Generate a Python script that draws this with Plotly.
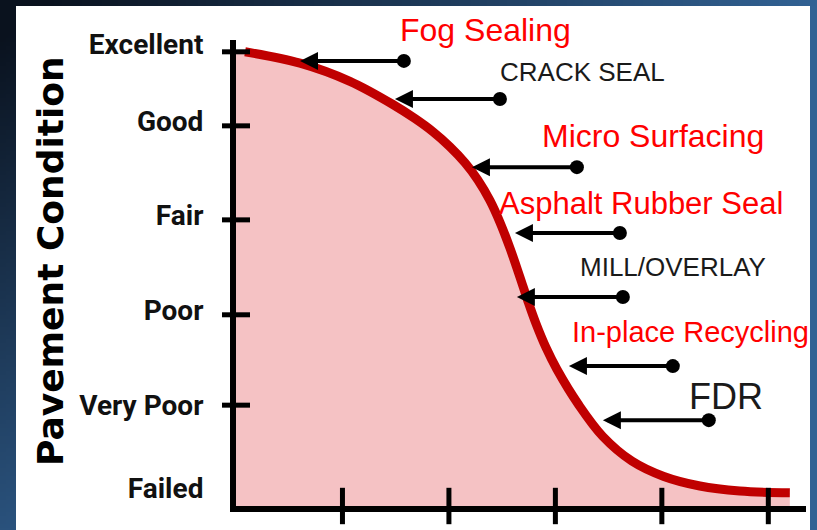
import base64, struct, zlib
import numpy as np
import plotly.graph_objects as go

# ---------------- data ----------------
condition_labels = ["Excellent", "Good", "Fair", "Poor", "Very Poor", "Failed"]
condition_label_pos = [101.7, 84.8, 64.1, 43.2, 22.2, 4.0]
tick_marks_y = [100, 83.7, 63.0, 42.1, 22.2]
tick_marks_x = [1, 2, 3, 4, 5]

curve_x = [0.085, 0.601, 1.070, 1.474, 1.681, 1.850, 2.009, 2.150, 2.272, 2.385,
           2.479, 2.573, 2.667, 2.742, 2.817, 2.911, 3.014, 3.221, 3.446, 3.718,
           4.019, 4.357, 4.732, 5.202]
curve_y = [100.0, 97.5, 93.5, 88.4, 85.3, 82.4, 79.1, 75.6, 71.8, 67.3,
           62.5, 56.8, 50.4, 45.1, 40.2, 34.9, 30.1, 22.2, 15.3, 9.9,
           6.5, 4.4, 3.3, 2.9]

arrow_head_x = [0.601, 1.493, 2.216, 2.620, 2.638, 3.127, 3.446]
arrow_tail_x = [1.577, 2.479, 3.202, 3.606, 3.634, 4.103, 4.441]
arrow_y = [98.0, 89.6, 74.6, 60.1, 46.0, 30.8, 18.9]

treatments = ["Fog Sealing", "CRACK SEAL", "Micro Surfacing", "Asphalt Rubber Seal",
              "MILL/OVERLAY", "In-place Recycling", "FDR"]
treatment_x = [1.521, 2.460, 2.854, 2.451, 3.211, 3.136, 4.235]
treatment_y = [100.5, 91.9, 77.1, 62.4, 48.8, 34.3, 19.2]
treatment_color = ["#ff0000", "#1a1a1a", "#ff0000", "#ff0000", "#1a1a1a", "#ff0000", "#1a1a1a"]
treatment_size = [32, 26, 32, 31, 26, 29, 36]

W, H = 817, 530

# ---------------- background gradient image ----------------
def make_png(arr):
    h, w, _ = arr.shape
    raw = b"".join(b"\x00" + arr[i].tobytes() for i in range(h))
    def chunk(t, d):
        return struct.pack(">I", len(d)) + t + d + struct.pack(">I", zlib.crc32(t + d) & 0xffffffff)
    return (b"\x89PNG\r\n\x1a\n" + chunk(b"IHDR", struct.pack(">IIBBBBB", w, h, 8, 2, 0, 0, 0))
            + chunk(b"IDAT", zlib.compress(raw, 9)) + chunk(b"IEND", b""))

gw, gh = 204, 132
gx = np.linspace(0, 1, gw)[None, :]
gy = np.linspace(0, 1, gh)[:, None]
t = np.clip(gx * 1.05 + gy * 0.85 - 0.05, 0, 1)[..., None]
dark = np.array([10, 18, 30], float)
blue = np.array([50, 98, 148], float)
img = (dark + (blue - dark) * t).astype(np.uint8)
img_uri = "data:image/png;base64," + base64.b64encode(make_png(img)).decode()

# ---------------- figure ----------------
fig = go.Figure()

fill_x = [0] + curve_x
fill_y = [curve_y[0]] + curve_y
fig.add_trace(go.Scatter(x=fill_x, y=fill_y, mode="lines", line=dict(width=0, shape="spline", smoothing=1.0),
                         fill="tozeroy", fillcolor="#f5c2c4", hoverinfo="skip"))
fig.add_trace(go.Scatter(x=curve_x, y=curve_y, mode="lines",
                         line=dict(color="#c00000", width=9, shape="spline", smoothing=1.0),
                         cliponaxis=False))
# cross tick marks
fig.add_trace(go.Scatter(x=[0] * len(tick_marks_y), y=tick_marks_y, mode="markers",
                         marker=dict(symbol="line-ew", size=20, line=dict(width=5, color="black")),
                         cliponaxis=False))
fig.add_trace(go.Scatter(x=tick_marks_x, y=[0] * len(tick_marks_x), mode="markers",
                         marker=dict(symbol="line-ns", size=26, line=dict(width=5, color="black")),
                         cliponaxis=False))
# arrow tail dots
fig.add_trace(go.Scatter(x=arrow_tail_x, y=arrow_y, mode="markers",
                         marker=dict(symbol="circle", size=14, color="black"), cliponaxis=False))

annotations = []
for hx, tx, yy in zip(arrow_head_x, arrow_tail_x, arrow_y):
    annotations.append(dict(x=hx, y=yy, ax=tx, ay=yy, xref="x", yref="y", axref="x", ayref="y",
                            text="", showarrow=True, arrowhead=2, arrowsize=0.9, arrowwidth=4,
                            arrowcolor="black", standoff=0, startstandoff=0))
for txt, xx, yy, col, sz in zip(treatments, treatment_x, treatment_y, treatment_color, treatment_size):
    annotations.append(dict(x=xx, y=yy, xref="x", yref="y", text=txt, showarrow=False,
                            xanchor="left", yanchor="bottom",
                            font=dict(family="Liberation Sans, Arial, sans-serif", size=sz, color=col)))
annotations.append(dict(x=50 / W, y=1 - 261 / H, xref="paper", yref="paper", text="Pavement Condition",
                        showarrow=False, textangle=-90, xanchor="center", yanchor="middle",
                        font=dict(family="DejaVu Sans", size=36, color="black", weight="bold")))

fig.update_layout(
    width=W, height=H,
    margin=dict(l=0, r=0, t=0, b=0, autoexpand=False),
    paper_bgcolor="#1b3450",
    plot_bgcolor="rgba(0,0,0,0)",
    showlegend=False,
    images=[dict(source=img_uri, xref="paper", yref="paper", x=0, y=1, sizex=1, sizey=1,
                 xanchor="left", yanchor="top", sizing="stretch", layer="below")],
    shapes=[dict(type="rect", xref="paper", yref="paper", x0=16 / W, x1=810 / W, y0=0, y1=1 - 6 / H,
                 fillcolor="white", line=dict(width=0), layer="below")],
    annotations=annotations,
    xaxis=dict(domain=[236 / W, 806 / W], range=[0, 5.354], showgrid=False, zeroline=False,
               automargin=False,
               showline=True, linecolor="black", linewidth=6, showticklabels=False, ticks=""),
    yaxis=dict(domain=[1 - 506 / H, 1 - 40 / H], range=[0, 102.6], showgrid=False, zeroline=False,
               automargin=False,
               showline=True, linecolor="black", linewidth=6,
               tickvals=condition_label_pos, ticktext=condition_labels,
               ticks="outside", ticklen=21, tickcolor="rgba(0,0,0,0)",
               tickfont=dict(family="Liberation Sans Narrow, Roboto, sans-serif", size=28,
                             color="#111111", weight="bold")),
)

post = ("document.body.style.margin='0';document.body.style.overflow='hidden';")
fig.write_html("out.html", config={"displayModeBar": False}, post_script=post)
